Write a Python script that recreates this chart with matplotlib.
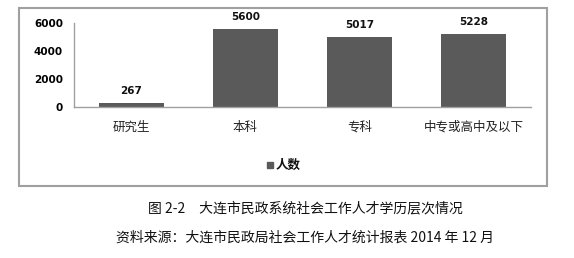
import matplotlib
matplotlib.use("Agg")
import matplotlib.pyplot as plt
from matplotlib.patches import Rectangle

plt.rcParams['font.family'] = ['Noto Sans CJK SC', 'DejaVu Sans']

categories = ["研究生", "本科", "专科", "中专或高中及以下"]
values = [267, 5600, 5017, 5228]
yticks = [0, 2000, 4000, 6000]
series_name = "人数"
caption = "图 2-2　大连市民政系统社会工作人才学历层次情况"
source = "资料来源：大连市民政局社会工作人才统计报表 2014 年 12 月"

W, H = 574, 258
fig = plt.figure(figsize=(W / 100, H / 100), dpi=100)
fig.patch.set_facecolor("white")

def fx(x):
    return x / W

def fy(y):
    return 1 - y / H

# outer chart frame
fig.patches.append(Rectangle((fx(19), fy(186)), fx(547) - fx(19), fy(8) - fy(186),
                             transform=fig.transFigure, fill=False,
                             edgecolor="#a0a0a0", linewidth=1.5))

ax = fig.add_axes([fx(74), fy(107), fx(531) - fx(74), fy(23) - fy(107)])
bar_color = "#5a5a5a"
x = list(range(len(categories)))
bars = ax.bar(x, values, width=0.57, color=bar_color)
ax.set_xlim(-0.5, len(categories) - 0.5)
ax.set_ylim(0, 6000)
ax.set_yticks(yticks)
ax.set_yticklabels([str(t) for t in yticks], fontsize=7.5, fontweight="bold",
                   family="DejaVu Sans")
ax.set_xticks(x)
ax.set_xticklabels(categories, fontsize=9, color="#222222")
ax.tick_params(axis="y", length=0, pad=8)
ax.tick_params(axis="x", length=0, pad=10)
for s in ["top", "right"]:
    ax.spines[s].set_visible(False)
for s in ["left", "bottom"]:
    ax.spines[s].set_color("#a0a0a0")
    ax.spines[s].set_linewidth(1.0)
ax.set_facecolor("none")

for b, v in zip(bars, values):
    ax.annotate(str(v), (b.get_x() + b.get_width() / 2, v), xytext=(0, 5),
                textcoords="offset points", ha="center", va="bottom",
                fontsize=7.5, fontweight="bold", family="DejaVu Sans", color="#111111")

# legend
fig.patches.append(Rectangle((fx(267), fy(168)), fx(273) - fx(267), fy(162) - fy(168),
                             transform=fig.transFigure, color=bar_color))
fig.text(fx(276), fy(165), series_name, fontsize=9, fontweight="bold",
         ha="left", va="center", color="#111111")

fig.text(fx(305), fy(208), caption, fontsize=10, ha="center", va="center", color="#111111")
fig.text(fx(305), fy(238), source, fontsize=10, ha="center", va="center", color="#111111")

fig.savefig("out.png", dpi=100)
